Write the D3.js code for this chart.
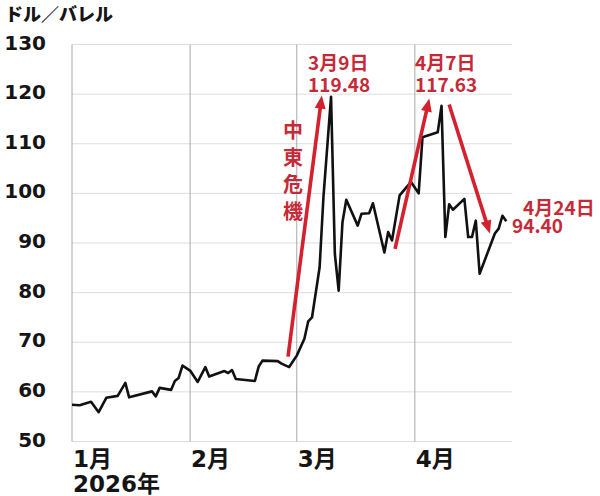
<!DOCTYPE html>
<html>
<head>
<meta charset="utf-8">
<script src="https://cdn.jsdelivr.net/npm/d3@7"></script>
<style>
    body { margin: 0; background: #fff; }
</style>
</head>
<body>
<div id="chart"></div>
<script>
// Price data (dollars per barrel)
const dates = [
    "2026-01-01", "2026-01-03", "2026-01-06", "2026-01-08", "2026-01-10", "2026-01-13",
    "2026-01-15", "2026-01-16", "2026-01-22", "2026-01-23", "2026-01-24", "2026-01-27",
    "2026-01-28", "2026-01-29", "2026-01-30", "2026-02-01", "2026-02-03", "2026-02-05",
    "2026-02-06", "2026-02-10", "2026-02-11", "2026-02-12", "2026-02-13", "2026-02-18",
    "2026-02-19", "2026-02-20", "2026-02-24", "2026-02-25", "2026-02-27", "2026-03-01",
    "2026-03-03", "2026-03-04", "2026-03-05", "2026-03-07", "2026-03-08", "2026-03-10",
    "2026-03-11", "2026-03-12", "2026-03-13", "2026-03-14", "2026-03-17", "2026-03-18",
    "2026-03-20", "2026-03-21", "2026-03-24", "2026-03-25", "2026-03-26", "2026-03-28",
    "2026-03-31", "2026-04-02", "2026-04-03", "2026-04-07", "2026-04-08", "2026-04-09",
    "2026-04-10", "2026-04-11", "2026-04-14", "2026-04-15", "2026-04-16", "2026-04-17",
    "2026-04-18", "2026-04-22", "2026-04-23", "2026-04-24", "2026-04-25"
];
const prices = [
    57.4, 57.3, 58.0, 55.9, 58.8, 59.2,
    61.8, 58.9, 60.1, 59.1, 60.8, 60.4,
    62.2, 62.8, 65.3, 64.3, 62.0, 65.0,
    63.1, 64.2, 63.8, 64.4, 62.6, 62.2,
    65.1, 66.3, 66.2, 65.7, 65.0, 67.3,
    70.7, 74.2, 75.0, 85.1, 99.2, 119.48,
    87.8, 80.4, 94.2, 98.7, 93.5, 95.9,
    96.0, 98.0, 88.1, 92.2, 90.5, 99.6,
    102.3, 100.0, 111.3, 112.3, 117.63, 91.2,
    97.8, 96.7, 98.9, 91.2, 91.2, 94.5,
    83.8, 91.9, 92.9, 95.5, 94.4
];

const yTicks = [50, 60, 70, 80, 90, 100, 110, 120, 130];
const monthStarts = ["2026-01-01", "2026-02-01", "2026-03-01", "2026-04-01"];
const monthLabels = ["1月", "2月", "3月", "4月"];

// Red arrows: start date/value -> end date/value
const arrowFrom = [["2026-02-26 17", 67.1], ["2026-03-26 19", 88.8], ["2026-04-10 00", 117.9]];
const arrowTo = [["2026-03-07 14", 119.7], ["2026-04-04 19", 119.1], ["2026-04-20 17", 91.9]];

// Annotation labels
const noteDates = ["3月9日", "4月7日", "4月24日"];
const noteValues = ["119.48", "117.63", "94.40"];
const crisisLabel = ["中", "東", "危", "機"];

const width = 600,
    height = 496;
const margin = {top: 44.5, bottom: 54.5, left: 72, right: 88};

const parseDay = d3.timeParse("%Y-%m-%d");
const parseHour = d3.timeParse("%Y-%m-%d %H");

const data = dates.map((d, i) => ({date: parseDay(d), price: prices[i]}));

// Create the SVG container
const svg = d3.select("#chart")
    .append("svg")
    .attr("width", width)
    .attr("height", height)
    .style("background", "#fff");

// Scales
const xScale = d3.scaleTime()
    .domain([parseDay("2026-01-01"), parseHour("2026-04-26 12")])
    .range([margin.left, width - margin.right]);

const yScale = d3.scaleLinear()
    .domain([50, 130])
    .range([height - margin.bottom, margin.top]);

// Horizontal gridlines
svg.append("g")
    .selectAll("line")
    .data(yTicks)
    .enter().append("line")
    .attr("x1", xScale.range()[0])
    .attr("x2", xScale.range()[1])
    .attr("y1", d => yScale(d))
    .attr("y2", d => yScale(d))
    .attr("stroke", "#dedede")
    .attr("stroke-width", 1);

// Vertical month lines
svg.append("g")
    .selectAll("line")
    .data(monthStarts)
    .enter().append("line")
    .attr("x1", d => xScale(parseDay(d)))
    .attr("x2", d => xScale(parseDay(d)))
    .attr("y1", yScale(130))
    .attr("y2", yScale(50))
    .attr("stroke", "#a8a8a8")
    .attr("stroke-width", 1);

// Y tick labels
svg.append("g")
    .selectAll("text")
    .data(yTicks)
    .enter().append("text")
    .attr("x", 46)
    .attr("y", d => yScale(d) + 5)
    .attr("text-anchor", "end")
    .style("font-family", "'DejaVu Sans', sans-serif")
    .style("font-weight", "bold")
    .style("font-size", "20px")
    .style("fill", "#151515")
    .text(d => d);

// Unit label
svg.append("text")
    .attr("x", 5)
    .attr("y", 21)
    .style("font-family", "'Noto Sans CJK JP', sans-serif")
    .style("font-weight", "900")
    .style("font-size", "18px")
    .style("fill", "#151515")
    .text("ドル／バレル");

// Month labels
svg.append("g")
    .selectAll("text")
    .data(monthStarts)
    .enter().append("text")
    .attr("x", d => xScale(parseDay(d)) + 1)
    .attr("y", 467)
    .style("font-family", "'DejaVu Sans', 'Noto Sans CJK JP', sans-serif")
    .style("font-weight", "bold")
    .style("font-size", "23px")
    .style("fill", "#151515")
    .text((d, i) => monthLabels[i]);

svg.append("text")
    .attr("x", xScale(parseDay("2026-01-01")) + 1)
    .attr("y", 492)
    .style("font-family", "'DejaVu Sans', 'Noto Sans CJK JP', sans-serif")
    .style("font-weight", "bold")
    .style("font-size", "23px")
    .style("fill", "#151515")
    .text("2026年");

// Price line
const line = d3.line()
    .x(d => xScale(d.date))
    .y(d => yScale(d.price));

svg.append("path")
    .datum(data)
    .attr("d", line)
    .attr("fill", "none")
    .attr("stroke", "#111")
    .attr("stroke-width", 2.6)
    .attr("stroke-linejoin", "round");

// Red arrows
const red = "#d3222e";
const textRed = "#c52a38";

arrowFrom.forEach((from, i) => {
    const to = arrowTo[i];
    const x1 = xScale(parseHour(from[0])), y1 = yScale(from[1]);
    const x2 = xScale(parseHour(to[0])), y2 = yScale(to[1]);
    const len = Math.hypot(x2 - x1, y2 - y1);
    const ux = (x2 - x1) / len, uy = (y2 - y1) / len;
    const head = 13, half = 5.5;

    svg.append("line")
        .attr("x1", x1)
        .attr("y1", y1)
        .attr("x2", x2 - ux * (head - 2))
        .attr("y2", y2 - uy * (head - 2))
        .attr("stroke", red)
        .attr("stroke-width", 3.6);

    const bx = x2 - ux * head, by = y2 - uy * head;
    svg.append("path")
        .attr("d", `M${x2},${y2}L${bx - uy * half},${by + ux * half}L${bx + uy * half},${by - ux * half}Z`)
        .attr("fill", red);
});

// Annotations
const notePos = [[308, 70, 308, 91.5], [415, 70, 415, 92], [523, 215, 512, 233]];

notePos.forEach((p, i) => {
    svg.append("text")
        .attr("x", p[0])
        .attr("y", p[1])
        .style("font-family", "'Noto Sans CJK JP', sans-serif")
        .style("font-weight", "bold")
        .style("font-size", "19px")
        .style("fill", textRed)
        .text(noteDates[i]);

    svg.append("text")
        .attr("x", p[2])
        .attr("y", p[3])
        .style("font-family", "'Noto Sans CJK JP', sans-serif")
        .style("font-weight", "bold")
        .style("font-size", "19px")
        .style("fill", textRed)
        .text(noteValues[i]);
});

// Vertical label for the Middle East crisis
svg.append("g")
    .selectAll("text")
    .data(crisisLabel)
    .enter().append("text")
    .attr("x", 293)
    .attr("y", (d, i) => 129 + i * 27)
    .attr("text-anchor", "middle")
    .attr("dominant-baseline", "central")
    .style("font-family", "'Noto Sans CJK JP', sans-serif")
    .style("font-weight", "bold")
    .style("font-size", "20px")
    .style("fill", textRed)
    .text(d => d);
</script>
</body>
</html>
